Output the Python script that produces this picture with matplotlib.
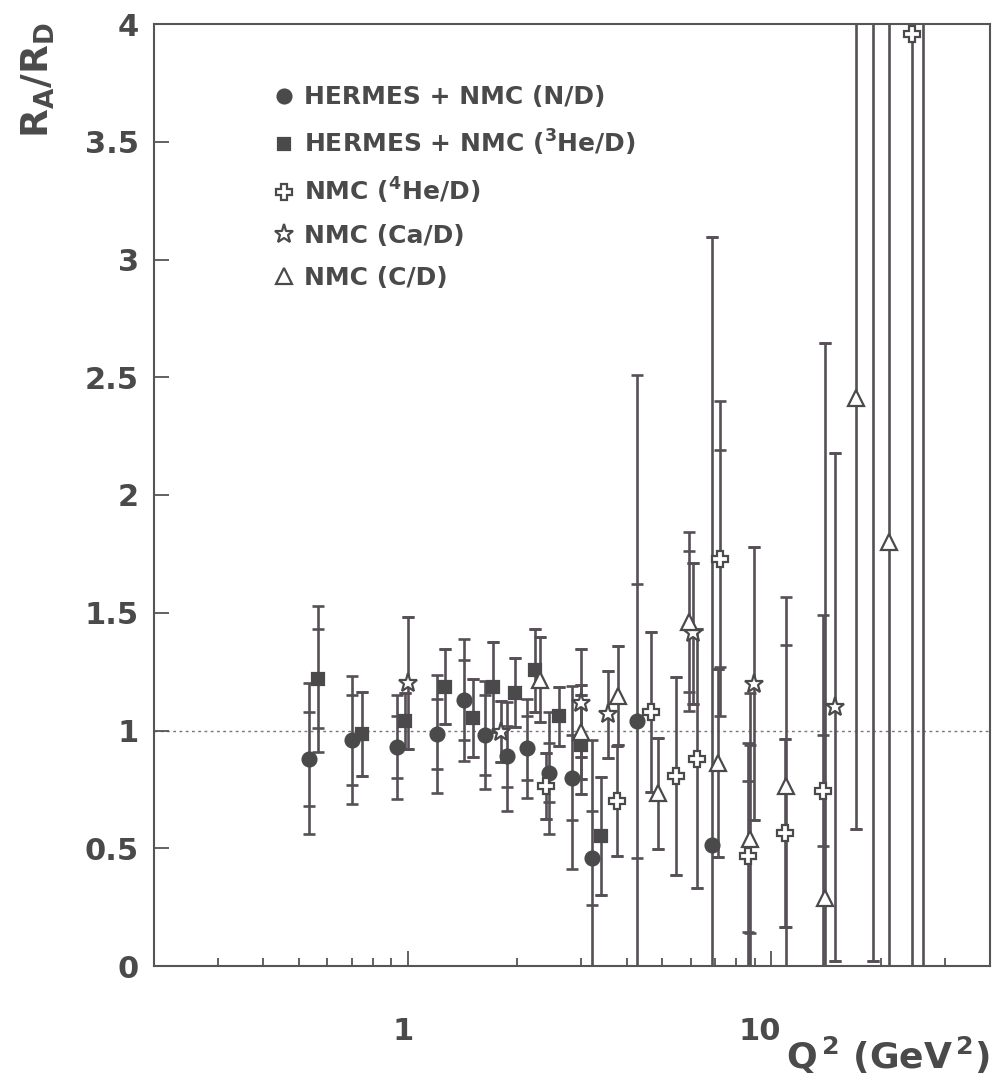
import matplotlib.pyplot as plt
import matplotlib.transforms as mtransforms
from matplotlib.lines import Line2D

plt.rcParams['font.family'] = 'DejaVu Sans'
plt.rcParams['font.weight'] = 'bold'
plt.rcParams['mathtext.fontset'] = 'dejavusans'
plt.rcParams['mathtext.default'] = 'bf'

INK = '#4a4a4a'
LINE = '#565056'

# HERMES + NMC (N/D): Q2, ratio, total error, stat error
n_q2 = [0.535, 0.703, 0.931, 1.199, 1.425, 1.628, 1.871, 2.13, 2.447, 2.827, 3.22, 4.28, 6.86]
n_r = [0.88, 0.96, 0.93, 0.985, 1.13, 0.98, 0.89, 0.925, 0.82, 0.80, 0.46, 1.04, 0.515]
n_tot = [0.32, 0.27, 0.22, 0.25, 0.26, 0.23, 0.23, 0.21, 0.26, 0.39, 0.50, 1.47, 2.58]
n_stat = [0.20, 0.19, 0.13, 0.15, 0.17, 0.17, 0.13, 0.135, 0.125, 0.18, 0.20, 0.58, 2.58]

# HERMES + NMC (3He/D)
he3_q2 = [0.565, 0.748, 0.981, 1.264, 1.506, 1.715, 1.968, 2.233, 2.6, 3.0, 3.405]
he3_r = [1.22, 0.985, 1.04, 1.186, 1.052, 1.184, 1.161, 1.255, 1.06, 0.94, 0.552]
he3_tot = [0.31, 0.18, 0.12, 0.16, 0.165, 0.19, 0.145, 0.175, 0.125, 0.21, 0.25]
he3_stat = [0.21, 0.18, 0.12, 0.16, 0.165, 0.19, 0.145, 0.175, 0.125, 0.21, 0.25]

# NMC (4He/D)
he4_q2 = [2.405, 3.764, 4.68, 5.48, 6.25, 7.24, 8.63, 10.93, 13.9, 19.1, 24.4, 26.2]
he4_r = [0.766, 0.70, 1.08, 0.807, 0.88, 1.73, 0.465, 0.565, 0.745, 4.6, 3.957, 4.5]
he4_tot = [0.14, 0.235, 0.34, 0.42, 0.55, 0.67, 0.48, 0.40, 0.745, 4.58, 5.0, 6.0]
he4_stat = [0.14, 0.235, 0.34, 0.42, 0.55, 0.46, 0.32, 0.40, 0.235, 4.58, 5.0, 6.0]

# NMC (Ca/D)
ca_q2 = [1.002, 1.809, 3.0, 3.55, 6.1, 8.98, 14.99]
ca_r = [1.20, 0.995, 1.118, 1.069, 1.413, 1.198, 1.10]
ca_tot = [0.28, 0.13, 0.23, 0.185, 0.30, 0.58, 1.08]
ca_stat = [0.28, 0.13, 0.23, 0.185, 0.30, 0.58, 1.08]

# NMC (C/D)
c_q2 = [2.305, 2.99, 3.78, 4.88, 5.95, 7.12, 8.76, 10.97, 14.03, 17.06, 21.1]
c_r = [1.215, 0.995, 1.147, 0.733, 1.462, 0.862, 0.54, 0.765, 0.287, 2.41, 1.80]
c_tot = [0.18, 0.20, 0.21, 0.235, 0.38, 0.40, 0.62, 0.80, 2.36, 1.83, 5.0]
c_stat = [0.18, 0.20, 0.21, 0.235, 0.30, 0.40, 0.40, 0.60, 2.36, 1.83, 5.0]

y_ticks = [0, 0.5, 1, 1.5, 2, 2.5, 3, 3.5, 4]
y_ticklabels = ['0', '0.5', '1', '1.5', '2', '2.5', '3', '3.5', '4']

series = [
    (n_q2, n_r, n_tot, n_stat, 'o', INK, 10, 'HERMES + NMC (N/D)'),
    (he3_q2, he3_r, he3_tot, he3_stat, 's', INK, 9, r'HERMES + NMC ($^3$He/D)'),
    (he4_q2, he4_r, he4_tot, he4_stat, 'P', 'white', 11, r'NMC ($^4$He/D)'),
    (ca_q2, ca_r, ca_tot, ca_stat, '*', 'white', 14, 'NMC (Ca/D)'),
    (c_q2, c_r, c_tot, c_stat, '^', 'white', 11, 'NMC (C/D)'),
]

fig = plt.figure(figsize=(9.92, 10.76), dpi=100)
ax = fig.add_axes([154 / 992, 110 / 1076, 836 / 992, 942 / 1076])

ax.axhline(1.0, color='#777777', lw=1.0, ls=(0, (2, 2.5)), zorder=1)

handles = []
for q2, r, tot, stat, mk, face, ms, label in series:
    # total errors with caps
    ax.errorbar(q2, r, yerr=tot, fmt='none', ecolor=LINE, elinewidth=1.9,
                capsize=4.5, capthick=1.9, zorder=2)
    # statistical errors: short ticks only
    ax.errorbar(q2, r, yerr=stat, fmt='none', ecolor=LINE, elinewidth=0,
                capsize=4.0, capthick=1.9, zorder=2)
    ax.plot(q2, r, ls='none', marker=mk, ms=ms, mfc=face, mec=INK, mew=1.6, zorder=3)
    handles.append(Line2D([], [], ls='none', marker=mk, ms=ms, mfc=face, mec=INK,
                          mew=1.6, label=label))

ax.set_xscale('log')
ax.set_xlim(0.2, 40)
ax.set_ylim(0, 4)
ax.set_yticks(y_ticks)
ax.set_yticklabels(y_ticklabels)
ax.set_xticks([1, 10])
ax.set_xticklabels(['1', '10'])

for side in ['left', 'bottom', 'top', 'right']:
    ax.spines[side].set_color('#555555')
    ax.spines[side].set_linewidth(1.5)

ax.tick_params(axis='both', which='both', direction='in', colors='#555555',
               labelcolor=INK, top=False, right=False, width=1.3)
ax.tick_params(axis='y', which='major', length=11, pad=11, labelsize=22)
ax.tick_params(axis='x', which='major', length=11, pad=37, labelsize=22)
ax.tick_params(axis='x', which='minor', length=6, labelbottom=False)
ax.tick_params(axis='y', which='minor', left=False)

# x tick labels sit a little left of their ticks in the original
for lab, dx in zip(ax.get_xticklabels(), [-5, -12]):
    shift = mtransforms.ScaledTranslation(dx / 100, 0, fig.dpi_scale_trans)
    lab.set_transform(lab.get_transform() + shift)

leg = ax.legend(handles=handles, loc='upper left', bbox_to_anchor=(0.127, 0.948),
                frameon=False, fontsize=18, handlelength=0.9, handletextpad=0.35,
                labelspacing=0.72, borderpad=0)
for t in leg.get_texts():
    t.set_color(INK)

fig.text(38 / 992, 1 - 22 / 1076, r'R$_A$/R$_D$', rotation=90, ha='center', va='top',
         fontsize=27, color=INK)
fig.text(0.998, 0.0, r'Q$^{\,2}$ (GeV$^{\,2}$)', ha='right', va='bottom',
         fontsize=26, color=INK)

fig.savefig('out.png', dpi=100)
